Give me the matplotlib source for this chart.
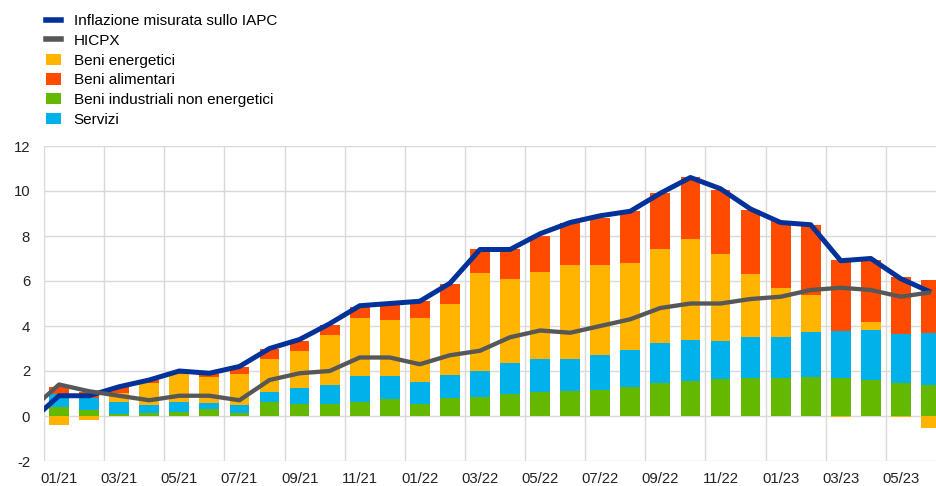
import matplotlib
matplotlib.use('Agg')
import matplotlib.pyplot as plt
import numpy as np
from matplotlib.lines import Line2D
from matplotlib.patches import Patch

plt.rcParams['font.family'] = ['Liberation Sans', 'DejaVu Sans']
plt.rcParams['axes.unicode_minus'] = False

# monthly categories 01/21 .. 06/23
months = ['01/21', '02/21', '03/21', '04/21', '05/21', '06/21', '07/21', '08/21', '09/21', '10/21',
          '11/21', '12/21', '01/22', '02/22', '03/22', '04/22', '05/22', '06/22', '07/22', '08/22',
          '09/22', '10/22', '11/22', '12/22', '01/23', '02/23', '03/23', '04/23', '05/23', '06/23']

# contributions (percentage points)
neig = [0.38, 0.25, 0.08, 0.12, 0.17, 0.30, 0.15, 0.62, 0.54, 0.53,
        0.62, 0.76, 0.54, 0.78, 0.86, 1.00, 1.08, 1.11, 1.14, 1.30,
        1.45, 1.57, 1.63, 1.67, 1.70, 1.72, 1.67, 1.60, 1.48, 1.39]
services = [0.62, 0.55, 0.53, 0.36, 0.46, 0.27, 0.35, 0.43, 0.72, 0.86,
            1.15, 1.02, 0.98, 1.04, 1.14, 1.37, 1.46, 1.42, 1.58, 1.62,
            1.80, 1.83, 1.72, 1.85, 1.80, 2.03, 2.12, 2.22, 2.16, 2.32]
energy = [-0.40, -0.16, 0.43, 0.97, 1.24, 1.18, 1.35, 1.47, 1.65, 2.23,
          2.60, 2.48, 2.82, 3.14, 4.36, 3.70, 3.86, 4.17, 3.98, 3.90,
          4.15, 4.47, 3.85, 2.78, 2.19, 1.63, -0.05, 0.37, -0.05, -0.55]
food = [0.30, 0.26, 0.24, 0.15, 0.08, 0.10, 0.34, 0.44, 0.42, 0.41,
        0.49, 0.70, 0.76, 0.89, 1.08, 1.36, 1.61, 1.89, 2.08, 2.28,
        2.50, 2.75, 2.84, 2.87, 2.97, 3.11, 3.14, 2.74, 2.54, 2.35]

# headline lines, first value is 12/20 (drawn just outside the left edge)
hicp = [-0.3, 0.9, 0.9, 1.3, 1.6, 2.0, 1.9, 2.2, 3.0, 3.4, 4.1,
        4.9, 5.0, 5.1, 5.9, 7.4, 7.4, 8.1, 8.6, 8.9, 9.1,
        9.9, 10.6, 10.1, 9.2, 8.6, 8.5, 6.9, 7.0, 6.1, 5.5]
hicpx = [0.2, 1.4, 1.1, 0.9, 0.7, 0.9, 0.9, 0.7, 1.6, 1.9, 2.0,
         2.6, 2.6, 2.3, 2.7, 2.9, 3.5, 3.8, 3.7, 4.0, 4.3,
         4.8, 5.0, 5.0, 5.2, 5.3, 5.6, 5.7, 5.6, 5.3, 5.5]

c_blue = '#003299'
c_grey = '#575757'
c_yellow = '#FFB400'
c_red = '#FF4B00'
c_green = '#65B800'
c_light = '#00B1EA'

fig = plt.figure(figsize=(9.37, 4.86), dpi=100)
ax = fig.add_axes([44 / 937, 25 / 486, 902 / 937, 315 / 486])

x = np.arange(len(months))
pos_bottom = np.zeros(len(months))
neg_bottom = np.zeros(len(months))
for vals, col in [(neig, c_green), (services, c_light), (energy, c_yellow), (food, c_red)]:
    vals = np.array(vals)
    bottoms = np.where(vals >= 0, pos_bottom, neg_bottom)
    ax.bar(x, vals, bottom=bottoms, width=0.66, color=col, linewidth=0, zorder=2)
    pos_bottom = pos_bottom + np.clip(vals, 0, None)
    neg_bottom = neg_bottom + np.clip(vals, None, 0)

xl = np.arange(-1, len(months))
ax.plot(xl, hicp, color=c_blue, linewidth=3.6, zorder=3, solid_capstyle='butt')
ax.plot(xl, hicpx, color=c_grey, linewidth=3.1, zorder=4, solid_capstyle='butt')

ax.set_xlim(-0.5, len(months) - 0.5)
ax.set_ylim(-2, 12)
ax.set_yticks(np.arange(-2, 13, 2))
ax.set_xticks(x[::2])
ax.set_xticklabels(months[::2])
ax.set_xticks(np.arange(-0.5, len(months), 2), minor=True)
ax.tick_params(axis='both', which='both', length=0, labelsize=10.7, colors='#222222')
ax.tick_params(axis='y', pad=10)
ax.tick_params(axis='x', pad=8)
ax.grid(axis='y', color='#d9d9d9', linewidth=1, zorder=0)
ax.grid(axis='x', which='minor', color='#d9d9d9', linewidth=1, zorder=0)
ax.grid(axis='x', which='major', visible=False)
ax.set_axisbelow(True)
for s in ax.spines.values():
    s.set_visible(False)

handles = [Line2D([], [], color=c_blue, linewidth=4),
           Line2D([], [], color=c_grey, linewidth=4),
           Patch(facecolor=c_yellow), Patch(facecolor=c_red),
           Patch(facecolor=c_green), Patch(facecolor=c_light)]
labels = ['Inflazione misurata sullo IAPC', 'HICPX', 'Beni energetici', 'Beni alimentari',
          'Beni industriali non energetici', 'Servizi']
fig.legend(handles, labels, loc='upper left', bbox_to_anchor=(46 / 937, 1 - 14 / 486),
           frameon=False, fontsize=11, handlelength=0.95, handleheight=0.75,
           handletextpad=0.85, labelspacing=0.38, borderpad=0, borderaxespad=0)

fig.savefig('out.png', dpi=100)
